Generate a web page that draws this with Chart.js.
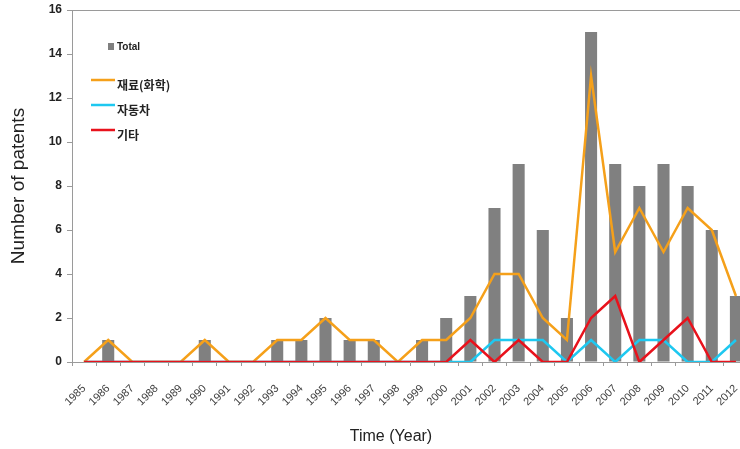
<!DOCTYPE html>
<html>
<head>
<meta charset="utf-8">
<script src="https://cdn.jsdelivr.net/npm/chart.js@4.4.0/dist/chart.umd.min.js"></script>
<style>
  html, body { margin: 0; padding: 0; background: #fff; overflow: hidden; }
  #wrap { width: 748px; height: 449px; }
</style>
</head>
<body>
<div id="wrap"><canvas id="patents"></canvas></div>
<script>
// years on the x axis
const years = ['1985','1986','1987','1988','1989','1990','1991','1992','1993','1994',
  '1995','1996','1997','1998','1999','2000','2001','2002','2003','2004',
  '2005','2006','2007','2008','2009','2010','2011','2012'];

// total patents (bars)
const total    = [0,1,0,0,0,1,0,0,1,1,2,1,1,0,1,2,3,7,9,6,2,15,9,8,9,8,6,3];
// 재료(화학)
const material = [0,1,0,0,0,1,0,0,1,1,2,1,1,0,1,1,2,4,4,2,1,13,5,7,5,7,6,3];
// 자동차
const car      = [0,0,0,0,0,0,0,0,0,0,0,0,0,0,0,0,0,1,1,1,0,1,0,1,1,0,0,1];
// 기타
const etc      = [0,0,0,0,0,0,0,0,0,0,0,0,0,0,0,0,1,0,1,0,0,2,3,0,1,2,0,0];

const yTicks = [0,2,4,6,8,10,12,14,16];
const xTitle = 'Time (Year)';

// leyenda dentro del area del grafico, borde superior y titulo del eje x
const extras = {
  id: 'extras',
  afterDraw(chart) {
    const ctx = chart.ctx, a = chart.chartArea;
    ctx.save();
    // borde superior
    ctx.strokeStyle = '#9a9a9a';
    ctx.lineWidth = 1;
    ctx.beginPath();
    ctx.moveTo(a.left, a.top + 0.5);
    ctx.lineTo(a.right, a.top + 0.5);
    ctx.stroke();

    // Total
    ctx.fillStyle = '#808080';
    ctx.fillRect(108, 43, 6, 7);
    ctx.fillStyle = '#222';
    ctx.font = 'bold 10px "Liberation Sans", Arial, sans-serif';
    ctx.textBaseline = 'middle';
    ctx.fillText(chart.data.datasets[0].label, 117, 47);

    // lineas
    const rows = [[1, 80, 85], [2, 105, 110], [3, 130, 135]];
    ctx.font = 'bold 12px "Noto Sans CJK KR", sans-serif';
    rows.forEach(function (r) {
      const ds = chart.data.datasets[r[0]];
      ctx.strokeStyle = ds.borderColor;
      ctx.lineWidth = 2.5;
      ctx.beginPath();
      ctx.moveTo(91, r[1]);
      ctx.lineTo(115, r[1]);
      ctx.stroke();
      ctx.fillStyle = '#222';
      ctx.fillText(ds.label, 117, r[2]);
    });

    // titulo eje x
    ctx.font = '16px "Liberation Sans", Arial, sans-serif';
    ctx.textAlign = 'center';
    ctx.fillStyle = '#222';
    ctx.fillText(xTitle, 391, 437);
    ctx.restore();
  }
};

const lineStyle = { type: 'line', pointRadius: 0, borderWidth: 2.5, tension: 0, fill: false };

new Chart(document.getElementById('patents'), {
  type: 'bar',
  data: {
    labels: years,
    datasets: [
      { label: 'Total', data: total, backgroundColor: '#808080', order: 4,
        barPercentage: 0.5, categoryPercentage: 1 },
      Object.assign({ label: '재료(화학)', data: material, borderColor: '#f5a01a', order: 3 }, lineStyle),
      Object.assign({ label: '자동차', data: car, borderColor: '#1ec8f0', order: 2 }, lineStyle),
      Object.assign({ label: '기타', data: etc, borderColor: '#e8121c', order: 1 }, lineStyle)
    ]
  },
  options: {
    responsive: true,
    maintainAspectRatio: false,
    animation: false,
    layout: { padding: { top: 10, left: 0, right: 0, bottom: 0 } },
    plugins: { legend: { display: false }, tooltip: { enabled: false } },
    scales: {
      x: {
        offset: true,
        grid: { display: true, offset: true, drawOnChartArea: false, tickLength: 4, color: '#9a9a9a' },
        border: { color: '#9a9a9a' },
        ticks: {
          minRotation: 45, maxRotation: 45, autoSkip: false, padding: 16,
          color: '#404040', font: { family: '"Liberation Sans", Arial, sans-serif', size: 11 }
        },
        afterFit(s) { s.height = 87; s.paddingLeft = 0; s.paddingRight = 0; }
      },
      y: {
        min: 0, max: 16,
        afterBuildTicks(s) { s.ticks = yTicks.map(v => ({ value: v })); },
        grid: { display: true, drawOnChartArea: false, tickLength: 5, color: '#9a9a9a' },
        border: { color: '#9a9a9a' },
        ticks: {
          padding: 5, color: '#222',
          font: { family: '"Liberation Sans", Arial, sans-serif', size: 12, weight: 'bold' }
        },
        title: {
          display: true, text: 'Number of patents', color: '#222', padding: { top: 7, bottom: 0 },
          font: { family: '"Liberation Sans", Arial, sans-serif', size: 19 }
        },
        afterFit(s) { s.width = 72; s.paddingTop = 0; s.paddingBottom = 0; }
      }
    }
  },
  plugins: [extras]
});
</script>
</body>
</html>
